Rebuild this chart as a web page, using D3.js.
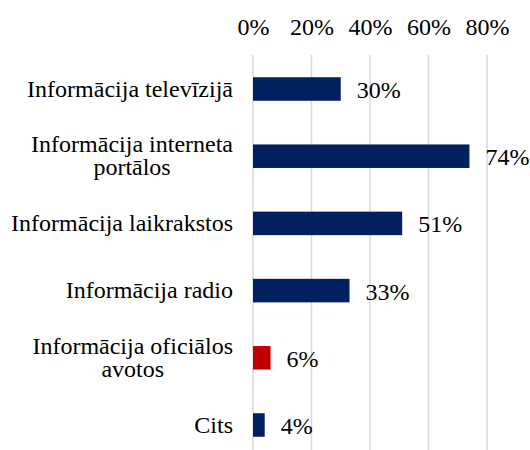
<!DOCTYPE html>
<html><head><meta charset="utf-8">
<script src="https://cdn.jsdelivr.net/npm/d3@7"></script>
</head><body style="margin:0">
<script>
const categories = [["Informācija televīzijā"],["Informācija interneta","portālos"],["Informācija laikrakstos"],["Informācija radio"],["Informācija oficiālos","avotos"],["Cits"]];
const values = [30, 74, 51, 33, 6, 4];
const barColors = ["#002060","#002060","#002060","#002060","#C00000","#002060"];
const tickValues = [0, 20, 40, 60, 80];
const tickLabels = ["0%","20%","40%","60%","80%"];

const W = 530, H = 450, FS = "24px", FF = '"Times New Roman", "Liberation Serif", serif';
const svg = d3.select("body").append("svg").attr("width", W).attr("height", H)
  .style("font-family", FF);
const x = d3.scaleLinear().domain([0, 80]).range([253, 487]);
const y = d3.scaleBand().domain(d3.range(categories.length)).range([55.4, 458.6]).paddingInner(0.65).paddingOuter(0.325);

// gridlines
svg.append("g").selectAll("line").data(tickValues).join("line")
  .attr("x1", d => x(d)).attr("x2", d => x(d)).attr("y1", 55).attr("y2", H)
  .attr("stroke", "#d9d9d9").attr("stroke-width", 1.5);

// top axis labels
const ax = svg.append("g").attr("transform", "translate(0,35)")
  .call(d3.axisTop(x).tickValues(tickValues).tickFormat((d,i) => tickLabels[i]).tickSize(0).tickPadding(0));
ax.attr("font-family", null).attr("font-size", null);
ax.select(".domain").remove();
ax.selectAll("text").style("font-size", FS).style("font-family", FF).attr("fill", "#000").attr("dy", 0);

// bars
svg.append("g").selectAll("rect").data(values).join("rect")
  .attr("x", x(0)).attr("y", (d,i) => y(i)).attr("width", d => x(d) - x(0)).attr("height", y.bandwidth())
  .attr("fill", (d,i) => barColors[i]);

// value labels
svg.append("g").selectAll("text").data(values).join("text")
  .attr("x", d => x(d) + 16).attr("y", (d,i) => y(i) + y.bandwidth()/2 + 9)
  .style("font-size", FS).style("font-family", FF).attr("fill", "#000").text(d => d + "%");

// category labels
const lh = 23.5;
const cl = svg.append("g").selectAll("text").data(categories).join("text")
  .attr("text-anchor", "middle").style("font-size", FS).style("font-family", FF).attr("fill", "#000")
  .attr("y", (d,i) => y(i) + y.bandwidth()/2 + 7.5 - (d.length - 1) * lh / 2);
cl.each(function(d){
  const t = d3.select(this);
  d.forEach((s, j) => t.append("tspan").attr("dy", j ? lh : 0).text(s));
});
cl.each(function(d){
  const t = d3.select(this);
  const widths = [];
  t.selectAll("tspan").each(function(){ widths.push(this.getComputedTextLength()); });
  const maxW = d3.max(widths);
  const cx = 233 - maxW/2;
  t.selectAll("tspan").attr("x", cx);
});
</script>
</body></html>
